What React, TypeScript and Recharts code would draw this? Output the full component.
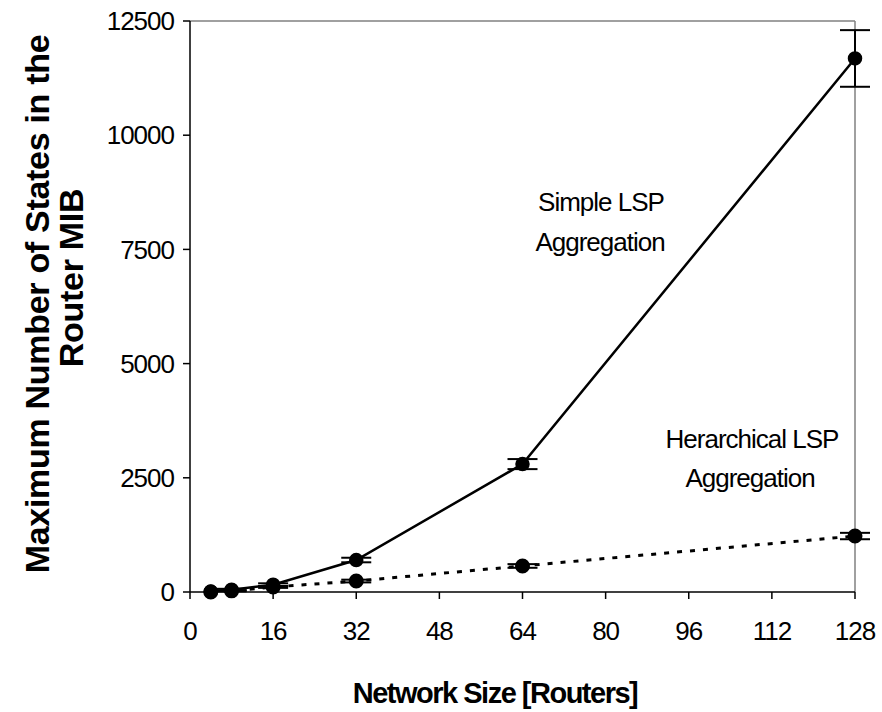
import * as React from 'react';
import { LineChart, Line, XAxis, YAxis, ErrorBar, ReferenceLine } from 'recharts';

// network sizes (routers)
const sizes = [4, 8, 16, 32, 64, 128];
// simple LSP aggregation
const simpleStates = [10, 50, 160, 700, 2800, 11680];
const simpleErr = [0, 20, 30, 50, 110, 620];
// hierarchical LSP aggregation
const hierStates = [0, 25, 110, 240, 570, 1225];
const hierErr = [0, 10, 20, 30, 40, 70];

const xTicks = [0, 16, 32, 48, 64, 80, 96, 112, 128];
const yTicks = [0, 2500, 5000, 7500, 10000, 12500];

const rows = sizes.map((s, i) => ({
    size: s,
    simple: simpleStates[i],
    simpleErr: simpleErr[i],
    hier: hierStates[i],
    hierErr: hierErr[i],
}));

const font = 'Liberation Sans, Arial, sans-serif';
const tickStyle = { fontSize: 26, fill: '#000', fontFamily: font, letterSpacing: -1 };

export default function App() {
    return (
        <>
            <style>{'body{margin:0;overflow:hidden}'}</style>
            <LineChart
                width={882}
                height={712}
                data={rows}
                margin={{ top: 21, right: 27, left: 130, bottom: 90 }}
            >
                <ReferenceLine y={12500} stroke="#808080" strokeWidth={1.5} />
                <ReferenceLine x={128} stroke="#808080" strokeWidth={1.5} />
                <XAxis
                    dataKey="size"
                    type="number"
                    domain={[0, 128]}
                    ticks={xTicks}
                    height={30}
                    tickSize={7}
                    tickMargin={23}
                    stroke="#000"
                    strokeWidth={1.5}
                    tick={tickStyle}
                />
                <YAxis
                    type="number"
                    domain={[0, 12500]}
                    ticks={yTicks}
                    width={60}
                    tickSize={7}
                    tickMargin={9}
                    stroke="#000"
                    strokeWidth={1.5}
                    tick={tickStyle}
                />
                <Line
                    dataKey="simple"
                    stroke="#000"
                    strokeWidth={2.5}
                    dot={{ r: 6, fill: '#000', stroke: '#000' }}
                    isAnimationActive={false}
                >
                    <ErrorBar dataKey="simpleErr" direction="y" width={15} stroke="#000" strokeWidth={2} />
                </Line>
                <Line
                    dataKey="hier"
                    stroke="#000"
                    strokeWidth={3}
                    strokeDasharray="5 8"
                    dot={{ r: 6, fill: '#000', stroke: '#000', strokeDasharray: 'none' }}
                    isAnimationActive={false}
                >
                    <ErrorBar dataKey="hierErr" direction="y" width={15} stroke="#000" strokeWidth={2} />
                </Line>

                <text x={601} y={211} textAnchor="middle" fontSize={26} fontFamily={font} letterSpacing={-1}>Simple LSP</text>
                <text x={600} y={251} textAnchor="middle" fontSize={26} fontFamily={font} letterSpacing={-1}>Aggregation</text>
                <text x={752} y={448} textAnchor="middle" fontSize={26} fontFamily={font} letterSpacing={-1}>Herarchical LSP</text>
                <text x={750} y={487} textAnchor="middle" fontSize={26} fontFamily={font} letterSpacing={-1}>Aggregation</text>

                <text x={495} y={703} textAnchor="middle" fontSize={29} fontWeight="bold" fontFamily={font} letterSpacing={-1.5}>
                    Network Size [Routers]
                </text>
                <text x={49} y={304} transform="rotate(-90, 49, 304)" textAnchor="middle" fontSize={34} fontWeight="bold" fontFamily={font} letterSpacing={-0.3}>
                    Maximum Number of States in the
                </text>
                <text x={83} y={278} transform="rotate(-90, 83, 278)" textAnchor="middle" fontSize={34} fontWeight="bold" fontFamily={font} letterSpacing={-0.3}>
                    Router MIB
                </text>
            </LineChart>
        </>
    );
}
